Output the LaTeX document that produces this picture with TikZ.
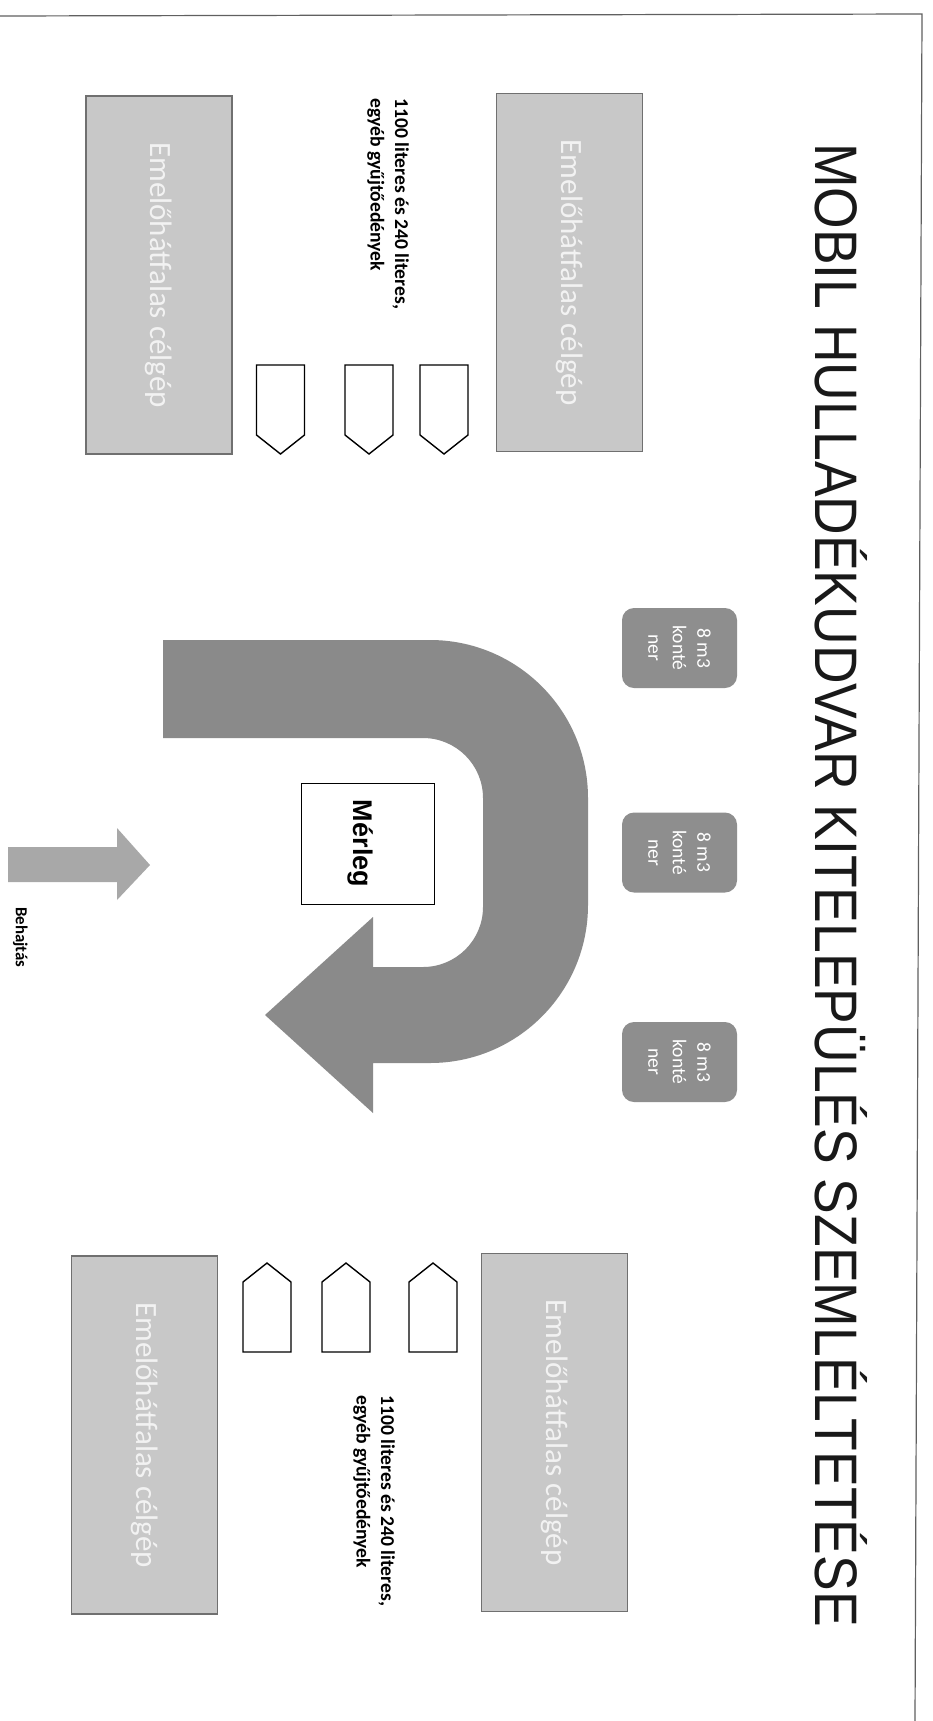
\documentclass[tikz,border=0pt]{standalone}
\usepackage{fontspec}
\usepackage{graphicx}
\setmainfont{Liberation Sans}
\newfontfamily\calfont{Carlito}
\definecolor{boxgray}{HTML}{C8C8C8}
\definecolor{boxedge}{HTML}{707070}
\definecolor{boxtext}{HTML}{F2F2F2}
\definecolor{contgray}{HTML}{8E8E8E}
\definecolor{ugray}{HTML}{8A8A8A}
\definecolor{ingray}{HTML}{A8A8A8}
\definecolor{framegray}{HTML}{606060}
\tikzset{
  liftbox/.style={rotate=-90, draw=boxedge, line width=1.3pt, fill=boxgray,
    minimum width=358pt, minimum height=146pt, inner sep=0pt, text=boxtext,
    font=\calfont\fontsize{31}{37}\selectfont},
  contbox/.style={rotate=-90, fill=contgray, rounded corners=12pt,
    minimum width=80pt, minimum height=115pt, inner sep=0pt, text=white,
    align=center, font=\calfont\fontsize{19.5}{24.5}\selectfont},
  binlabel/.style={rotate=-90, anchor=north west, inner sep=0pt, align=left,
    font=\calfont\bfseries\fontsize{19.6}{24.5}\selectfont},
  binline/.style={draw=black, line width=1.4pt, fill=white},
  bindown/.pic={\draw[binline] (-24,0) -- (24,0) -- (24,-70) -- (0,-89) -- (-24,-70) -- cycle;},
  binup/.pic={\draw[binline] (-24,0) -- (24,0) -- (24,70) -- (0,89) -- (-24,70) -- cycle;},
}
\begin{document}
\begin{tikzpicture}[x=1pt,y=1pt]
\useasboundingbox (0,0) rectangle (933,-1721);
\fill[white] (0,0) rectangle (933,-1721);
% page frame
\draw[framegray, line width=1.2pt] (0,-16) -- (922,-14) -- (915,-1721);
% title
\node[rotate=-90, anchor=base west, inner sep=0pt, text=black!90]
  (title) at (815,-143)
  {\scalebox{0.891}[1]{\fontsize{60}{60}\selectfont MOBIL HULLADÉKUDVAR KITELEPÜLÉS SZEMLÉLTETÉSE}};
% lifting trucks
\node[liftbox] (tl) at (159,-275) {Emelőhátfalas célgép};
\node[liftbox] (tr) at (569.5,-272.5) {Emelőhátfalas célgép};
\node[liftbox] (bl) at (144.5,-1435) {Emelőhátfalas célgép};
\node[liftbox] (br) at (554.5,-1432.5) {Emelőhátfalas célgép};
% labels
\node[binlabel] (lt) at (409,-98) {1100 literes és 240 literes,\\egyéb gyűjtőedények};
\node[binlabel] (lb) at (395,-1395) {1100 literes és 240 literes,\\egyéb gyűjtőedények};
% bins
\pic at (280.5,-365) {bindown};
\pic at (369,-365) {bindown};
\pic at (444,-365) {bindown};
\pic at (267,-1352) {binup};
\pic at (346,-1352) {binup};
\pic at (433,-1352) {binup};
% containers
\node[contbox] (c1) at (679.5,-648) {8 m3\\konté\\ner};
\node[contbox] (c2) at (679.5,-852.5) {8 m3\\konté\\ner};
\node[contbox] (c3) at (679.5,-1062) {8 m3\\konté\\ner};
% U-turn arrow
\fill[ugray] (163,-640) -- (430,-640) arc[start angle=90, end angle=0, radius=158pt]
  -- (588,-905) arc[start angle=0, end angle=-90, radius=158pt]
  -- (373,-1063) -- (373,-1113) -- (265,-1015) -- (373,-917) -- (373,-967)
  -- (423,-967) arc[start angle=-90, end angle=0, radius=60pt]
  -- (483,-798) arc[start angle=0, end angle=90, radius=60pt]
  -- (163,-738) -- cycle;
% scale
\node[rotate=-90, draw=black, line width=1pt, fill=white, minimum width=121pt,
  minimum height=133pt, inner sep=0pt, text height=33.6pt, text depth=6pt,
  font=\bfseries\fontsize{27}{30}\selectfont] (merleg) at (367.5,-843.5) {Mérleg};
% entry arrow
\fill[ingray] (8,-847) -- (117,-847) -- (117,-828) -- (150,-865) -- (117,-900)
  -- (117,-882) -- (8,-882) -- cycle;
\node[rotate=-90, anchor=base west, inner sep=0pt,
  font=\calfont\bfseries\fontsize{16.8}{20}\selectfont] (beh) at (16,-907) {Behajtás};
\end{tikzpicture}
\end{document}
